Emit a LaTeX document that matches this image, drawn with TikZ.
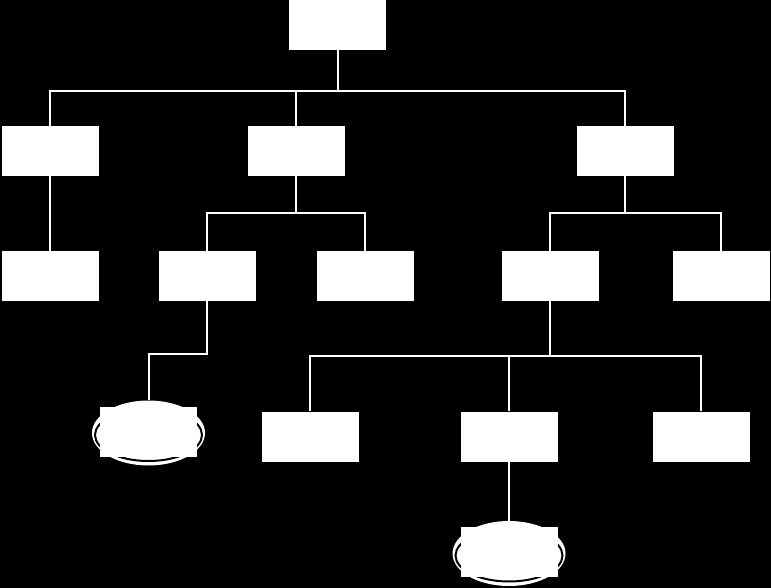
\documentclass[tikz,border=0pt]{standalone}
\usetikzlibrary{shapes.geometric}
\begin{document}
\begin{tikzpicture}[x=1pt,y=-1pt]

\tikzstyle{box}=[rectangle, fill=white, minimum width=97pt, minimum height=50pt, inner sep=0pt]
\tikzstyle{leaf}=[ellipse, fill=white, minimum width=113pt, minimum height=65pt, inner sep=0pt]
\tikzstyle{ring}=[draw=black, line width=2pt]
\tikzstyle{link}=[draw=white, line width=2pt]

% background, also fixes the page size
\fill[black] (0,0) rectangle (771,588);

% level 0
\node[box] (root) at (337.5,25) {};

% level 1
\node[box] (a) at (50,151) {};
\node[box] (b) at (296,151) {};
\node[box] (c) at (625,151) {};

% level 2
\node[box] (a1) at (50,276) {};
\node[box] (b1) at (207,276) {};
\node[box] (b2) at (365,276) {};
\node[box] (c1) at (550,276) {};
\node[box] (c2) at (721,276) {};

% level 3
\node[box] (d1) at (310,436.5) {};
\node[box] (d2) at (509,436.5) {};
\node[box] (d3) at (701,436.5) {};

% end points (ellipse + box on top)
\node[leaf] (e1) at (148.5,433) {};
\draw[ring] ([yshift=-2pt]e1.center) ellipse (53.5 and 26);
\node[box] (e1top) at ([yshift=1.5pt]e1.center) {};

\node[leaf] (e2) at (509,553.5) {};
\draw[ring] ([yshift=-2pt]e2.center) ellipse (53.5 and 26);
\node[box] (e2top) at ([yshift=1.5pt]e2.center) {};

% junctions
\coordinate (j0) at (337.5,91);
\coordinate (jb) at (296,213);
\coordinate (jc) at (625,213);
\coordinate (jb1) at (207,354);
\coordinate (jc1) at (550,356);

% connectors
\draw[link] (root.south) -- (j0);
\draw[link] (j0) -| (a.north);
\draw[link] (j0) -| (b.north);
\draw[link] (j0) -| (c.north);
\draw[link] (a.south) -- (a1.north);

\draw[link] (b.south) -- (jb);
\draw[link] (jb) -| (b1.north);
\draw[link] (jb) -| (b2.north);

\draw[link] (c.south) -- (jc);
\draw[link] (jc) -| (c1.north);
\draw[link] (jc) -| (c2.north);

\draw[link] (b1.south) -- (jb1) -| (e1.north);

\draw[link] (c1.south) -- (jc1);
\draw[link] (jc1) -| (d1.north);
\draw[link] (jc1) -| (d2.north);
\draw[link] (jc1) -| (d3.north);

\draw[link] (d2.south) -- (e2.north);

\end{tikzpicture}
\end{document}
